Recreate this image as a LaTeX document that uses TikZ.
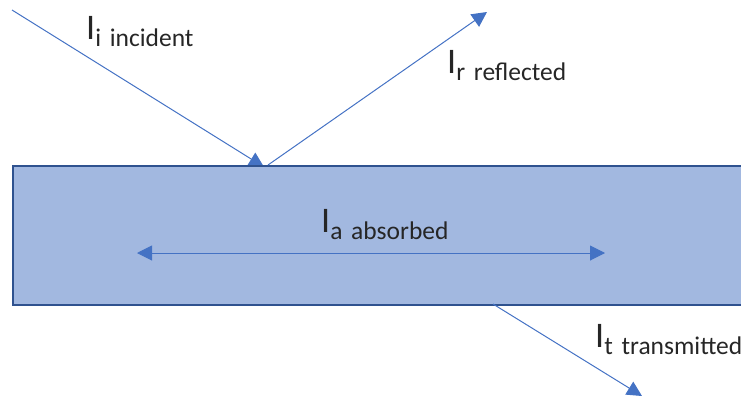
\documentclass[tikz,border=0pt]{standalone}
\usepackage{fontspec}
\setmainfont{Carlito}
\usetikzlibrary{arrows.meta}
\definecolor{raycol}{HTML}{4472C4}
\definecolor{slabfill}{HTML}{A2B8E0}
\definecolor{slabedge}{HTML}{2F528F}
\definecolor{txtcol}{HTML}{262626}
\newcommand{\intlabel}[2]{{\fontsize{36}{36}\selectfont I}\raisebox{-7pt}{\fontsize{25.5}{25.5}\selectfont #1\hspace{3pt} #2}}
\begin{document}
\begin{tikzpicture}[x=1pt,y=-1pt,
  tipshape/.tip={Triangle[length=15pt,width=15pt]},
  raypath/.style={draw=raycol, line width=1pt, -tipshape},
  lab/.style={anchor=base west, inner sep=0pt, text=txtcol},
  slabbox/.style={draw=slabedge, fill=slabfill, line width=2pt, inner sep=0pt,
    minimum width=760pt, minimum height=139pt, anchor=north west}]
\useasboundingbox (0,0) rectangle (741,399);
\clip (0,0) rectangle (741,399);
\coordinate (isrc) at (12,10);
\coordinate (itip) at (264,167);
\coordinate (rsrc) at (268,165);
\coordinate (rtip) at (487,12);
\coordinate (aleft) at (137,253);
\coordinate (aright) at (605,253);
\coordinate (tsrc) at (493,304);
\coordinate (ttip) at (642,396);
\draw[raypath] (isrc) -- (itip);
\node[slabbox] (slab) at (12,165) {};
\draw[raypath] (rsrc) -- (rtip);
\draw[draw=raycol, line width=1pt, tipshape-tipshape] (aleft) -- (aright);
\draw[raypath] (tsrc) -- (ttip);
\node[lab] (li) at (86,39) {\intlabel{i}{incident}};
\node[lab] (lr) at (447,73) {\intlabel{r}{reflected}};
\node[lab] (la) at (321,232) {\intlabel{a}{absorbed}};
\node[lab] (lt) at (595,347) {\intlabel{t}{transmitted}};
\end{tikzpicture}
\end{document}
